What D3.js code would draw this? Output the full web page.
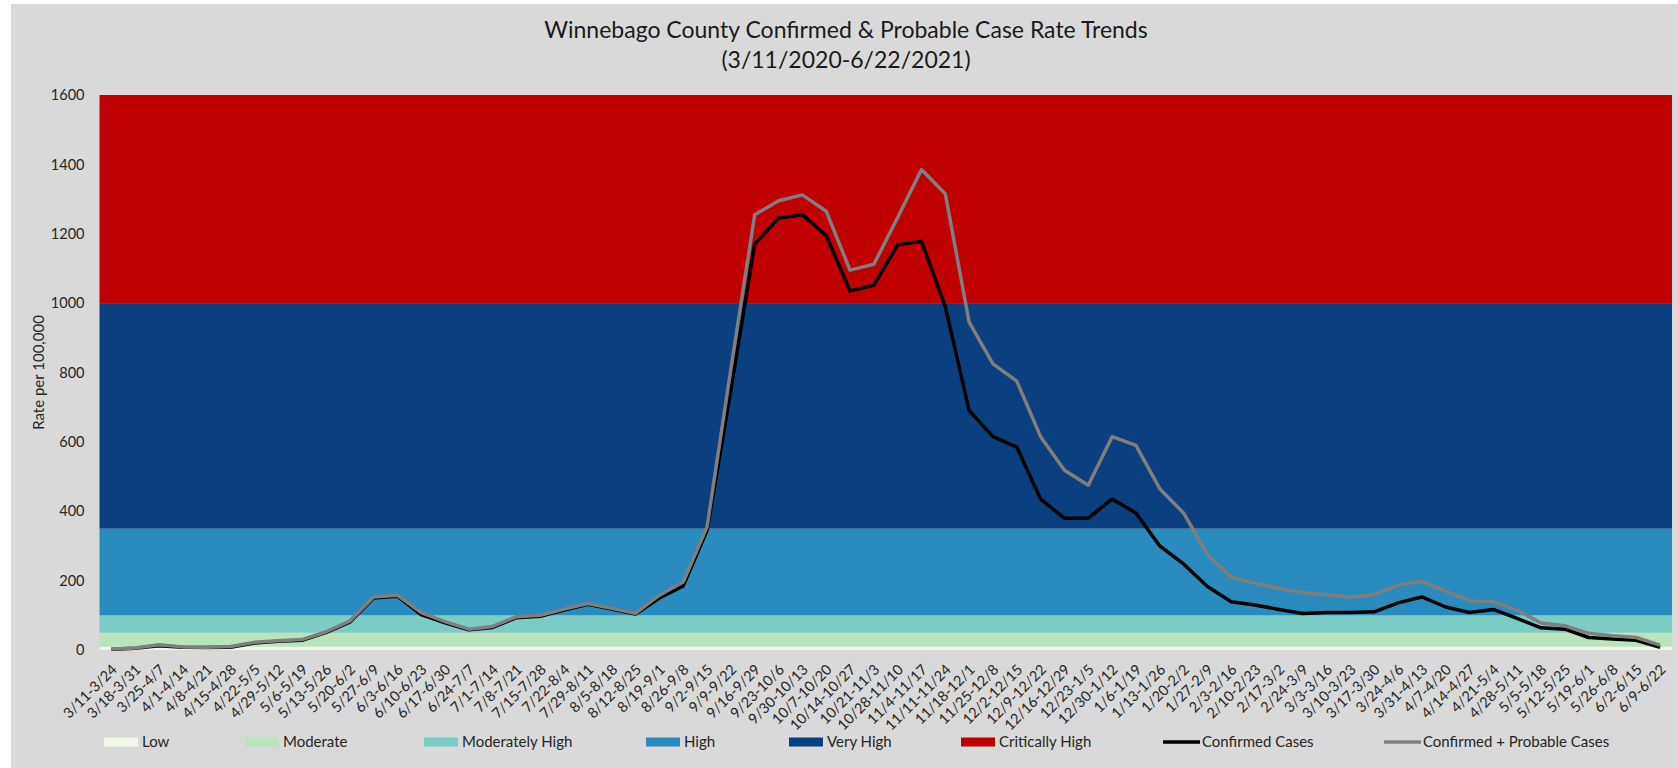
<!DOCTYPE html>
<html>
<head>
<meta charset="utf-8">
<script src="https://cdn.jsdelivr.net/npm/d3@7"></script>
<style>
  html, body { margin: 0; padding: 0; background: #fff; }
  svg { display: block; font-family: Lato, "Open Sans", sans-serif; }
</style>
</head>
<body>
<div id="chart"></div>
<script>
// weekly 14-day windows
var weeks = ['3/11-3/24', '3/18-3/31', '3/25-4/7', '4/1-4/14', '4/8-4/21', '4/15-4/28',
  '4/22-5/5', '4/29-5/12', '5/6-5/19', '5/13-5/26', '5/20-6/2', '5/27-6/9', '6/3-6/16',
  '6/10-6/23', '6/17-6/30', '6/24-7/7', '7/1-7/14', '7/8-7/21', '7/15-7/28', '7/22-8/4',
  '7/29-8/11', '8/5-8/18', '8/12-8/25', '8/19-9/1', '8/26-9/8', '9/2-9/15', '9/9-9/22',
  '9/16-9/29', '9/23-10/6', '9/30-10/13', '10/7-10/20', '10/14-10/27', '10/21-11/3',
  '10/28-11/10', '11/4-11/17', '11/11-11/24', '11/18-12/1', '11/25-12/8', '12/2-12/15',
  '12/9-12/22', '12/16-12/29', '12/23-1/5', '12/30-1/12', '1/6-1/19', '1/13-1/26',
  '1/20-2/2', '1/27-2/9', '2/3-2/16', '2/10-2/23', '2/17-3/2', '2/24-3/9', '3/3-3/16',
  '3/10-3/23', '3/17-3/30', '3/24-4/6', '3/31-4/13', '4/7-4/20', '4/14-4/27', '4/21-5/4',
  '4/28-5/11', '5/5-5/18', '5/12-5/25', '5/19-6/1', '5/26-6/8', '6/2-6/15', '6/9-6/22'];

var confirmed = [2, 5, 12, 8, 7, 8, 20, 25, 28, 50, 80, 150, 155,
  102, 78, 58, 65, 93, 97, 115, 132, 118, 104, 150, 185, 345, 750,
  1170, 1245, 1255, 1195, 1035, 1052, 1168, 1178, 990, 690, 615, 585,
  435, 380, 380, 435, 395, 300, 248, 183, 139, 130, 117, 105, 108,
  108, 110, 136, 153, 124, 108, 117, 91, 64, 60, 36, 32, 28, 8];

var confirmedProbable = [3, 6, 15, 9, 8, 10, 22, 27, 30, 52, 83, 153, 158,
  108, 82, 60, 68, 96, 100, 118, 134, 120, 106, 158, 196, 355, 810,
  1255, 1295, 1312, 1265, 1095, 1112, 1247, 1385, 1315, 945, 825, 775,
  615, 518, 475, 615, 590, 465, 395, 275, 210, 192, 178, 165, 160,
  152, 160, 187, 198, 170, 142, 139, 115, 78, 70, 48, 41, 36, 14];

// risk levels (lower / upper limit of each band)
var levelNames = ['Low', 'Moderate', 'Moderately High', 'High', 'Very High', 'Critically High'];
var levelLimits = [0, 10, 50, 100, 350, 1000, 1600];
var levelColors = ['#f0f9e8', '#b9e4bc', '#7accc4', '#2a8bbe', '#0a3f80', '#c00000'];

var yTicks = [0, 200, 400, 600, 800, 1000, 1200, 1400, 1600];

var config = {
  width: 1678,
  height: 768,
  left: 99.5,
  right: 1672,
  top: 95,
  bottom: 650,
  title: 'Winnebago County Confirmed & Probable Case Rate Trends',
  subTitle: '(3/11/2020-6/22/2021)',
  yTitle: 'Rate per 100,000',
  // legend item start x
  legendX: [104, 245, 424, 646, 789, 961, 1163, 1384],
  legendY: 742
};

var svg = d3.select('#chart')
    .append('svg')
        .attr('width', config.width)
        .attr('height', config.height);

// chart area bg
svg.append('rect')
    .attr('x', 11)
    .attr('y', 4)
    .attr('width', config.width - 11)
    .attr('height', config.height - 4)
    .attr('fill', '#d9d9d9');

var x = d3.scaleBand()
    .domain(weeks)
    .range([config.left, config.right]);
var y = d3.scaleLinear()
    .domain([0, 1600])
    .range([config.bottom, config.top]);

// risk bands
var bands = levelNames.map(function(name, i) {
  return { name: name, lo: levelLimits[i], hi: levelLimits[i + 1], color: levelColors[i] };
});
svg.append('g')
    .selectAll('rect')
    .data(bands)
    .enter()
    .append('rect')
        .attr('x', config.left)
        .attr('width', config.right - config.left)
        .attr('y', function(d) { return y(d.hi); })
        .attr('height', function(d) { return y(d.lo) - y(d.hi); })
        .attr('fill', function(d) { return d.color; });

// y axis
var yAxis = svg.append('g')
    .attr('transform', 'translate(' + (config.left - 15) + ',0)')
    .call(d3.axisLeft(y)
        .tickValues(yTicks)
        .tickFormat(d3.format('d'))
        .tickSize(0)
        .tickPadding(0));
yAxis.select('.domain').remove();
yAxis.selectAll('text')
    .style('font-family', 'Lato, sans-serif')
    .style('font-size', '14.5px')
    .attr('fill', '#262626');

svg.append('text')
    .attr('transform', 'translate(44,' + ((config.top + config.bottom) / 2) + ') rotate(-90)')
    .style('text-anchor', 'middle')
    .style('font-size', '15px')
    .attr('fill', '#262626')
    .text(config.yTitle);

// x labels, rotated
var xAxis = svg.append('g')
    .attr('transform', 'translate(0,' + config.bottom + ')')
    .call(d3.axisBottom(x).tickSize(0).tickPadding(0));
xAxis.select('.domain').remove();
xAxis.selectAll('text')
    .style('font-family', 'Lato, sans-serif')
    .style('font-size', '14.5px')
    .attr('fill', '#262626')
    .style('text-anchor', 'end')
    .attr('dy', '0.35em')
    .attr('transform', 'translate(3,17) rotate(-45)');

// series lines
var line = d3.line()
    .x(function(d, i) { return x(weeks[i]) + x.bandwidth() / 2; })
    .y(function(d) { return y(d); });

svg.append('path')
    .datum(confirmed)
    .attr('fill', 'none')
    .attr('stroke', '#000')
    .attr('stroke-width', 3.5)
    .attr('stroke-linejoin', 'round')
    .attr('d', line);
svg.append('path')
    .datum(confirmedProbable)
    .attr('fill', 'none')
    .attr('stroke', '#7f7f7f')
    .attr('stroke-width', 3.5)
    .attr('stroke-linejoin', 'round')
    .attr('d', line);

// title
var titleGroup = svg.append('g')
    .attr('class', 'title')
    .attr('fill', '#1a1a1a')
    .style('font-size', '23px')
    .style('text-anchor', 'middle');
titleGroup.append('text')
    .attr('x', 846)
    .attr('y', 38)
    .text(config.title);
titleGroup.append('text')
    .attr('x', 846)
    .attr('y', 68)
    .text(config.subTitle);

// legend
var legendItems = bands.map(function(d) {
  return { name: d.name, color: d.color, type: 'rect' };
}).concat([
  { name: 'Confirmed Cases', color: '#000', type: 'line' },
  { name: 'Confirmed + Probable Cases', color: '#7f7f7f', type: 'line' }
]);

var legend = svg.append('g')
    .selectAll('g')
    .data(legendItems)
    .enter()
    .append('g')
        .attr('transform', function(d, i) {
          return 'translate(' + config.legendX[i] + ',' + config.legendY + ')';
        });
legend.filter(function(d) { return d.type == 'rect'; })
    .append('rect')
        .attr('y', -4.5)
        .attr('width', 34)
        .attr('height', 9)
        .attr('fill', function(d) { return d.color; });
legend.filter(function(d) { return d.type == 'line'; })
    .append('line')
        .attr('x2', 37)
        .attr('stroke', function(d) { return d.color; })
        .attr('stroke-width', 3.5);
legend.append('text')
    .attr('x', function(d) { return d.type == 'rect' ? 38 : 39; })
    .attr('dy', '0.35em')
    .style('font-size', '15px')
    .attr('fill', '#262626')
    .text(function(d) { return d.name; });
</script>
</body>
</html>
